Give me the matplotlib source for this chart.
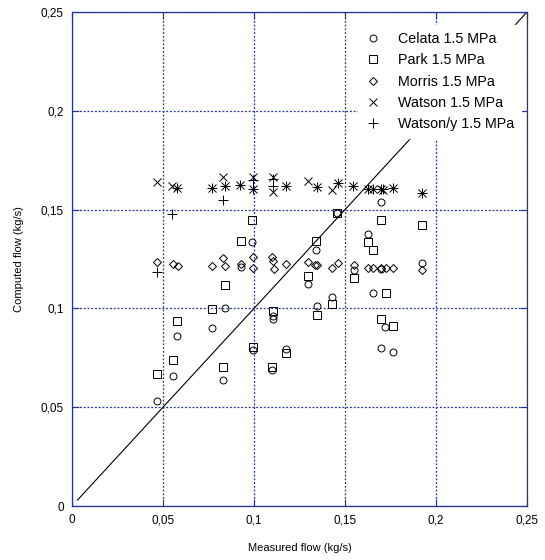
import matplotlib
matplotlib.use("Agg")
import matplotlib.pyplot as plt

plt.rcParams['font.family'] = ['Liberation Sans', 'DejaVu Sans']

# Celata 1.5 MPa
celata_x = [0.0465, 0.0553, 0.0579, 0.0771, 0.0828, 0.0838, 0.0927, 0.0987, 0.0993,
            0.1097, 0.1106, 0.1106, 0.1176, 0.1298, 0.1341, 0.1344, 0.1427, 0.1455,
            0.1550, 0.1628, 0.1656, 0.1698, 0.1698, 0.1720, 0.1698, 0.1765, 0.1921]
celata_y = [0.0533, 0.0656, 0.0860, 0.0902, 0.0638, 0.1004, 0.1208, 0.1336, 0.0790,
            0.0688, 0.0962, 0.0946, 0.0795, 0.1123, 0.1296, 0.1012, 0.1056, 0.1485,
            0.1194, 0.1375, 0.1080, 0.1540, 0.1200, 0.0907, 0.0798, 0.0778, 0.1228]

# Park 1.5 MPa
park_x = [0.0465, 0.0553, 0.0579, 0.0771, 0.0828, 0.0841, 0.0927, 0.0987, 0.0993,
          0.1097, 0.1106, 0.1176, 0.1298, 0.1341, 0.1344, 0.1427, 0.1455, 0.1550,
          0.1628, 0.1656, 0.1698, 0.1723, 0.1698, 0.1765, 0.1921]
park_y = [0.0668, 0.0739, 0.0938, 0.0997, 0.0705, 0.1118, 0.1343, 0.1447, 0.0805,
          0.0706, 0.0985, 0.0773, 0.1166, 0.1343, 0.0967, 0.1021, 0.1485, 0.1155,
          0.1334, 0.1296, 0.1447, 0.1080, 0.0946, 0.0913, 0.1422]

# Morris 1.5 MPa
morris_x = [0.0465, 0.0553, 0.0581, 0.0771, 0.0828, 0.0841, 0.0927, 0.0993, 0.0993,
            0.1097, 0.1106, 0.1110, 0.1176, 0.1299, 0.1335, 0.1348, 0.1427, 0.1460,
            0.1550, 0.1628, 0.1656, 0.1698, 0.1725, 0.1765, 0.1921]
morris_y = [0.1236, 0.1223, 0.1215, 0.1215, 0.1257, 0.1216, 0.1223, 0.1260, 0.1206,
            0.1262, 0.1240, 0.1200, 0.1223, 0.1236, 0.1218, 0.1222, 0.1203, 0.1228,
            0.1220, 0.1206, 0.1206, 0.1206, 0.1206, 0.1206, 0.1194]

# Watson 1.5 MPa
watson_x = [0.0465, 0.0551, 0.0579, 0.0767, 0.0828, 0.0841, 0.0923, 0.0993, 0.0993,
            0.1106, 0.1106, 0.1176, 0.1299, 0.1344, 0.1427, 0.1460, 0.1546, 0.1628,
            0.1656, 0.1698, 0.1710, 0.1765, 0.1921]
watson_y = [0.1638, 0.1620, 0.1608, 0.1610, 0.1667, 0.1620, 0.1624, 0.1667, 0.1604,
            0.1667, 0.1590, 0.1621, 0.1645, 0.1616, 0.1600, 0.1633, 0.1621, 0.1604,
            0.1604, 0.1604, 0.1600, 0.1610, 0.1582]

# Watson/y 1.5 MPa
watsony_x = [0.0465, 0.0551, 0.0579, 0.0767, 0.0828, 0.0841, 0.0923, 0.0993, 0.0993,
             0.1106, 0.1106, 0.1176, 0.1344, 0.1460, 0.1546, 0.1628, 0.1656, 0.1698,
             0.1710, 0.1765, 0.1921]
watsony_y = [0.1182, 0.1480, 0.1608, 0.1610, 0.1548, 0.1620, 0.1624, 0.1652, 0.1604,
             0.1655, 0.1622, 0.1621, 0.1616, 0.1633, 0.1621, 0.1604, 0.1604, 0.1604,
             0.1604, 0.1610, 0.1582]

ticks = [0, 0.05, 0.1, 0.15, 0.2, 0.25]
tick_labels = ['0', '0,05', '0,1', '0,15', '0,2', '0,25']

axis_blue = '#2233a0'

fig = plt.figure(figsize=(5.45, 5.6), dpi=100)
ax = fig.add_axes([0.1321, 0.0964, 0.8349, 0.8821])

# y = x reference line
ax.plot([0.003, 0.25], [0.003, 0.25], color='black', lw=0.8, zorder=2)

mk = dict(ls='none', mfc='none', mec='black', mew=0.7, color='black', zorder=3)
ax.plot(celata_x, celata_y, marker='o', ms=5, label='Celata 1.5 MPa', **mk)
ax.plot(park_x, park_y, marker='s', ms=5.5, label='Park 1.5 MPa', **mk)
ax.plot(morris_x, morris_y, marker='D', ms=4, label='Morris 1.5 MPa', **mk)
ax.plot(watson_x, watson_y, marker='x', ms=6, label='Watson 1.5 MPa', **mk)
ax.plot(watsony_x, watsony_y, marker='+', ms=6.5, label='Watson/y 1.5 MPa', **mk)

ax.set_xlim(0, 0.25)
ax.set_ylim(0, 0.25)
ax.set_xticks(ticks)
ax.set_yticks(ticks)
ax.set_xticklabels(tick_labels)
ax.set_yticklabels(tick_labels)
ax.tick_params(direction='in', length=5, width=0.8, color=axis_blue,
               top=True, right=True, labelsize=8.5, pad=6)
for s in ax.spines.values():
    s.set_color(axis_blue)
    s.set_linewidth(0.9)

ax.grid(True, color=axis_blue, linestyle=(0, (1.5, 1.5)), linewidth=0.9)
ax.set_axisbelow(True)

ax.set_xlabel('Measured flow (kg/s)', fontsize=8, labelpad=12)
ax.set_ylabel('Computed flow (kg/s)', fontsize=8, labelpad=12)

leg = ax.legend(loc='upper right', bbox_to_anchor=(1.003, 0.988), fontsize=10.3,
                frameon=True, fancybox=False, edgecolor='white', facecolor='white',
                framealpha=1, handlelength=1.0, handletextpad=1.25,
                labelspacing=0.5, borderpad=0.5)
leg.set_zorder(5)

fig.savefig('out.png', dpi=100)
